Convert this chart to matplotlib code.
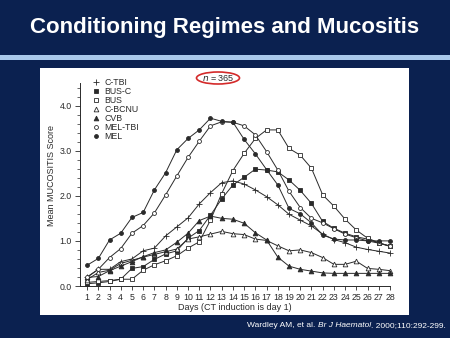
import matplotlib
matplotlib.use("Agg")
import matplotlib.pyplot as plt
from matplotlib.patches import Rectangle, Ellipse
from matplotlib.lines import Line2D

plt.rcParams['font.family'] = ['Liberation Sans', 'DejaVu Sans']

# Mean mucositis score per day, by conditioning regime
days = list(range(1, 29))
c_tbi = [0.19, 0.37, 0.37, 0.54, 0.60, 0.78, 0.84, 1.11, 1.31, 1.51, 1.82, 2.07, 2.29, 2.33,
         2.26, 2.13, 1.98, 1.80, 1.59, 1.46, 1.33, 1.15, 1.03, 0.96, 0.86, 0.81, 0.77, 0.73]
bus_c = [0.05, 0.07, 0.10, 0.15, 0.39, 0.43, 0.59, 0.71, 0.78, 1.06, 1.23, 1.57, 1.93, 2.24,
         2.41, 2.59, 2.57, 2.53, 2.35, 2.12, 1.83, 1.43, 1.28, 1.17, 1.09, 1.04, 0.95, 0.89]
bus = [0.08, 0.10, 0.12, 0.15, 0.15, 0.35, 0.47, 0.56, 0.67, 0.84, 0.98, 1.46, 2.05, 2.56,
       2.94, 3.27, 3.46, 3.46, 3.05, 2.90, 2.61, 2.02, 1.77, 1.48, 1.24, 1.06, 0.96, 0.88]
c_bcnu = [0.14, 0.30, 0.35, 0.50, 0.57, 0.64, 0.70, 0.76, 0.82, 1.04, 1.09, 1.15, 1.21, 1.16,
          1.14, 1.04, 1.01, 0.89, 0.78, 0.80, 0.74, 0.63, 0.48, 0.48, 0.55, 0.39, 0.37, 0.34]
cvb = [0.19, 0.21, 0.34, 0.44, 0.54, 0.65, 0.74, 0.80, 0.97, 1.17, 1.45, 1.55, 1.50, 1.48,
       1.39, 1.18, 1.02, 0.64, 0.44, 0.37, 0.33, 0.29, 0.28, 0.28, 0.28, 0.28, 0.28, 0.28]
mel_tbi = [0.20, 0.37, 0.63, 0.83, 1.17, 1.34, 1.62, 2.02, 2.44, 2.85, 3.21, 3.55, 3.64, 3.63,
           3.55, 3.35, 2.98, 2.57, 2.10, 1.74, 1.50, 1.40, 1.27, 1.15, 1.07, 1.00, 0.95, 0.88]
mel = [0.46, 0.61, 1.02, 1.17, 1.52, 1.63, 2.13, 2.51, 3.02, 3.27, 3.46, 3.72, 3.65, 3.63,
       3.25, 2.93, 2.58, 2.24, 1.72, 1.60, 1.40, 1.13, 1.04, 1.02, 1.02, 1.00, 1.00, 1.00]

regimes = ["C-TBI", "BUS-C", "BUS", "C-BCNU", "CVB", "MEL-TBI", "MEL"]
values = [c_tbi, bus_c, bus, c_bcnu, cvb, mel_tbi, mel]
ytick_labels = ["0.0", "1.0", "2.0", "3.0", "4.0"]

INK = "#2a2a2a"
NAVY = "#0b2150"
W, H = 450, 338

# marker style per regime: (marker, filled, size)
styles = {
    "C-TBI": ("+", True, 4.0),
    "BUS-C": ("s", True, 3.4),
    "BUS": ("s", False, 3.4),
    "C-BCNU": ("^", False, 3.4),
    "CVB": ("^", True, 3.4),
    "MEL-TBI": ("o", False, 2.8),
    "MEL": ("o", True, 2.8),
}

fig = plt.figure(figsize=(W / 100, H / 100), dpi=100)
fig.patch.set_facecolor(NAVY)


def px(x, y):
    return x / W, 1 - y / H


def prect(x0, y0, x1, y1, **kw):
    fig.add_artist(Rectangle((x0 / W, 1 - y1 / H), (x1 - x0) / W, (y1 - y0) / H,
                             transform=fig.transFigure, **kw))


# slide decorations
prect(0, 54.5, W, 59.5, facecolor="#a9c8ea", edgecolor="none", zorder=0)
prect(40, 68, 409, 315, facecolor="white", edgecolor="none", zorder=0)
fig.text(*px(225, 28), "Conditioning Regimes and Mucositis", color="white",
         fontsize=16, fontweight="bold", ha="center", va="center")

# plot area
l, r, b, t = 80, 390, 286, 83
ax = fig.add_axes([l / W, 1 - b / H, (r - l) / W, (b - t) / H])
ax.set_facecolor("none")
ax.set_xlim(0.37, 28)
ax.set_ylim(0, 4.5)

handles = []
for name, vals in zip(regimes, values):
    m, filled, ms = styles[name]
    face = INK if filled else "white"
    ax.plot(days, vals, color=INK, lw=0.7, marker=m, ms=ms, mfc=face, mec=INK,
            mew=0.6, clip_on=False, zorder=3)
    handles.append(Line2D([], [], ls="none", marker=m, ms=ms, mfc=face, mec=INK, mew=0.6))

for s in ("top", "right"):
    ax.spines[s].set_visible(False)
for s in ("left", "bottom"):
    ax.spines[s].set_color(INK)
    ax.spines[s].set_linewidth(0.7)

ax.set_xticks(days)
ax.set_xticklabels([str(d) for d in days])
ax.set_yticks([0, 1, 2, 3, 4])
ax.set_yticklabels(ytick_labels)
ax.set_yticks([v / 5 for v in range(0, 23)], minor=True)
ax.tick_params(axis="both", which="major", labelsize=6.3, colors=INK, length=3,
               width=0.6, pad=2)
ax.tick_params(axis="y", which="major", length=3.5, pad=2.5)
ax.tick_params(axis="y", which="minor", length=2, width=0.5, colors=INK)

fig.text(*px(235, 307), "Days (CT induction is day 1)", fontsize=6.5, color=INK,
         ha="center", va="center")
fig.text(*px(52, 176), "Mean MUCOSITIS Score", fontsize=6.5, color=INK,
         ha="center", va="center", rotation=90)

leg = ax.legend(handles, regimes, loc="upper left",
                bbox_to_anchor=px(93, 78), bbox_transform=fig.transFigure,
                frameon=False, fontsize=6.3, handlelength=0.6, handletextpad=0.7,
                labelspacing=0.0, borderpad=0, borderaxespad=0)
for txt in leg.get_texts():
    txt.set_color(INK)

# sample size tag
fig.text(*px(218, 78), r"$n$ = 365", fontsize=6.5, color=INK, ha="center", va="center",
         math_fontfamily="dejavusans")
fig.add_artist(Ellipse(px(218, 78), 43 / W, 12 / H, transform=fig.transFigure,
                       facecolor="none", edgecolor="#d42a2a", lw=1.2))

# citation, right-aligned at x = 446
cite_parts = [("Wardley AM, et al. ", "normal"), ("Br J Haematol", "italic"),
              (". 2000;110:292-299.", "normal")]
fig.canvas.draw()
rend = fig.canvas.get_renderer()
pieces = []
x_cursor = 0.0
for s, st in cite_parts:
    tx = fig.text(0, 0, s, fontsize=6.0, color="white", style=st, ha="left",
                  va="baseline")
    pieces.append(tx)
widths = [p.get_window_extent(rend).width for p in pieces]
x_cursor = 446 - sum(widths)
for p, w_ in zip(pieces, widths):
    p.set_position(px(x_cursor, 327))
    x_cursor += w_

fig.savefig("out.png", dpi=100, facecolor=NAVY)
